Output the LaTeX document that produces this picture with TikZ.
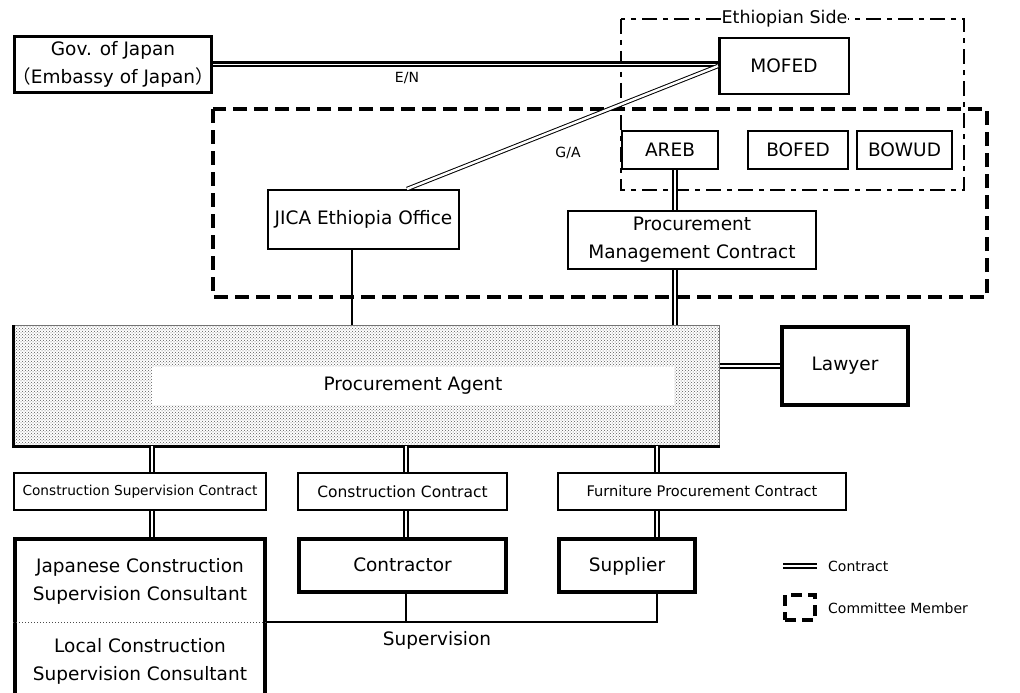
\documentclass[tikz,border=0pt]{standalone}
\usepackage{fontspec}
\setmainfont{DejaVu Sans}
\newfontfamily\cjk{Noto Sans CJK JP}
\usetikzlibrary{patterns}

% font sizes
\newcommand\fBig{\fontsize{18.5}{28}\selectfont}
\newcommand\fEth{\fontsize{17.5}{20}\selectfont}
\newcommand\fCC{\fontsize{15.5}{18}\selectfont}
\newcommand\fFPC{\fontsize{14.6}{18}\selectfont}
\newcommand\fCSC{\fontsize{13.7}{16}\selectfont}
\newcommand\fLeg{\fontsize{14}{16}\selectfont}
\newcommand\fTag{\fontsize{14}{16}\selectfont}

\tikzset{
  box/.style={draw, fill=white, line width=2pt, inner sep=0pt, align=center, font=\fBig},
  heavybox/.style={box, line width=4pt},
  smallbox/.style={box, line width=2pt},
  contract/.style={draw, double, line width=1.8pt, double distance=1.6pt},
  encontract/.style={draw, double, line width=2.4pt, double distance=1.2pt},
  gacontract/.style={draw, double, line width=1pt, double distance=2.4pt},
  plainlink/.style={draw, line width=2pt},
  committee/.style={draw, line width=4pt, dash pattern=on 14pt off 7pt},
  ethside/.style={draw, line width=2pt, dash pattern=on 15pt off 6pt on 5pt off 6pt},
  tag/.style={font=\fTag, inner sep=1pt},
}

\begin{document}
\begin{tikzpicture}[x=1pt,y=-1pt]
\useasboundingbox (0,0) rectangle (1020,693);
\fill[white] (0,0) rectangle (1020,693);

% dashed frames: Ethiopian side and committee members
\draw[ethside] (621,19) rectangle (964,190);
\node[font=\fEth, fill=white, inner sep=1pt] (ethlabel) at (784.5,19) {Ethiopian Side};
\draw[committee] (213,109) rectangle (987,297);

% column positions of the vertical connectors
\coordinate (colJ) at (352,0);
\coordinate (colG) at (407,0);
\coordinate (colM) at (675,0);
\coordinate (colA) at (152,0);
\coordinate (colB) at (406,0);
\coordinate (colC) at (657,0);
\coordinate (supy) at (0,622);

% upper level
\node[box, line width=3pt, minimum width=197pt, minimum height=56pt] (gov) at (113,64.5)
  {Gov. of Japan\\\kern-4pt{\cjk （}Embassy of Japan{\cjk ）}\kern-4pt};
\node[box, line width=2.5pt, minimum width=129.5pt, minimum height=55.5pt] (mofed) at (784,66) {MOFED};
\node[smallbox, minimum width=96pt, minimum height=38pt] (areb) at (670,150) {AREB};
\node[smallbox, minimum width=100pt, minimum height=38pt] (bofed) at (798,150) {BOFED};
\node[smallbox, minimum width=95pt, minimum height=38pt] (bowud) at (904.5,150) {BOWUD};
\node[smallbox, minimum width=191pt, minimum height=59pt] (jica) at (363.5,219.5) {JICA Ethiopia Office};
\node[smallbox, minimum width=248pt, minimum height=58pt] (pmc) at (692,240) {Procurement\\Management Contract};

% procurement agent
\node[draw=black!55, line width=1pt, pattern=crosshatch dots, pattern color=black!65,
      minimum width=706pt, minimum height=120pt, inner sep=0pt] (pa) at (366.5,385.5) {};
\draw[line width=3pt] (pa.north west) -- (pa.south west) -- (pa.south east);
\node[fill=white, minimum width=522pt, minimum height=38pt, inner sep=0pt, font=\fBig] (palabel) at (413,386) {Procurement Agent};
\node[heavybox, minimum width=126pt, minimum height=78pt] (lawyer) at (845,366) {Lawyer};

% contracts
\node[smallbox, font=\fCSC, minimum width=252pt, minimum height=37pt] (csc) at (140,491.5) {Construction Supervision Contract};
\node[smallbox, font=\fCC, minimum width=209pt, minimum height=37pt] (cc) at (402.5,491.5) {Construction Contract};
\node[smallbox, font=\fFPC, minimum width=288pt, minimum height=37pt] (fpc) at (702,491.5) {Furniture Procurement Contract};

% consultants, contractor, supplier
\node[heavybox, minimum width=250pt, minimum height=170pt] (jcsc) at (140,624) {};
\node[font=\fBig, align=center, inner sep=0pt] (jpcons) at (140,581.5) {Japanese Construction\\Supervision Consultant};
\node[font=\fBig, align=center, inner sep=0pt] (lccons) at (140,661) {Local Construction\\Supervision Consultant};
\draw[black!70, line width=1pt, dotted] (jcsc.west |- supy) -- (jcsc.east |- supy);
\node[heavybox, minimum width=207pt, minimum height=53pt] (contractor) at (402.5,565.5) {\strut Contractor};
\node[heavybox, minimum width=136pt, minimum height=53pt] (supplier) at (627,565.5) {\strut Supplier};

% connectors
\draw[encontract] (gov.east) -- (gov.east -| mofed.west);
\node[tag] (en) at (407,78) {E/N};
\draw[gacontract] (mofed.west) -- (jica.north -| colG);
\node[tag] (ga) at (568,153) {G/A};
\draw[contract] (areb.south -| colM) -- (pmc.north -| colM);
\draw[contract] (pmc.south -| colM) -- (pa.north -| colM);
\draw[plainlink] (jica.south -| colJ) -- (pa.north -| colJ);
\draw[contract] (pa.east |- lawyer.west) -- (lawyer.west);
\draw[contract] (pa.south -| colA) -- (csc.north -| colA);
\draw[contract] (pa.south -| colB) -- (cc.north -| colB);
\draw[contract] (pa.south -| colC) -- (fpc.north -| colC);
\draw[contract] (csc.south -| colA) -- (jcsc.north -| colA);
\draw[contract] (cc.south -| colB) -- (contractor.north -| colB);
\draw[contract] (fpc.south -| colC) -- (supplier.north -| colC);

% supervision links
\draw[plainlink] (jcsc.east |- supy) -- (colC |- supy) -- (supplier.south -| colC);
\draw[plainlink] (contractor.south -| colB) -- (colB |- supy);
\node[font=\fBig, inner sep=0pt] (suplabel) at (437,640) {Supervision};

% legend
\coordinate (lgA) at (783,566);
\coordinate (lgB) at (817,566);
\draw[contract] (lgA) -- (lgB);
\node[font=\fLeg, anchor=west, inner sep=0pt] (lgcontract) at (828,566) {Contract};
\node[draw, line width=4pt, dash pattern=on 11pt off 6pt, minimum width=30pt, minimum height=25pt, inner sep=0pt] (lgbox) at (800,607.5) {};
\node[font=\fLeg, anchor=west, inner sep=0pt] (lgcommittee) at (828,608) {Committee Member};
\end{tikzpicture}
\end{document}
